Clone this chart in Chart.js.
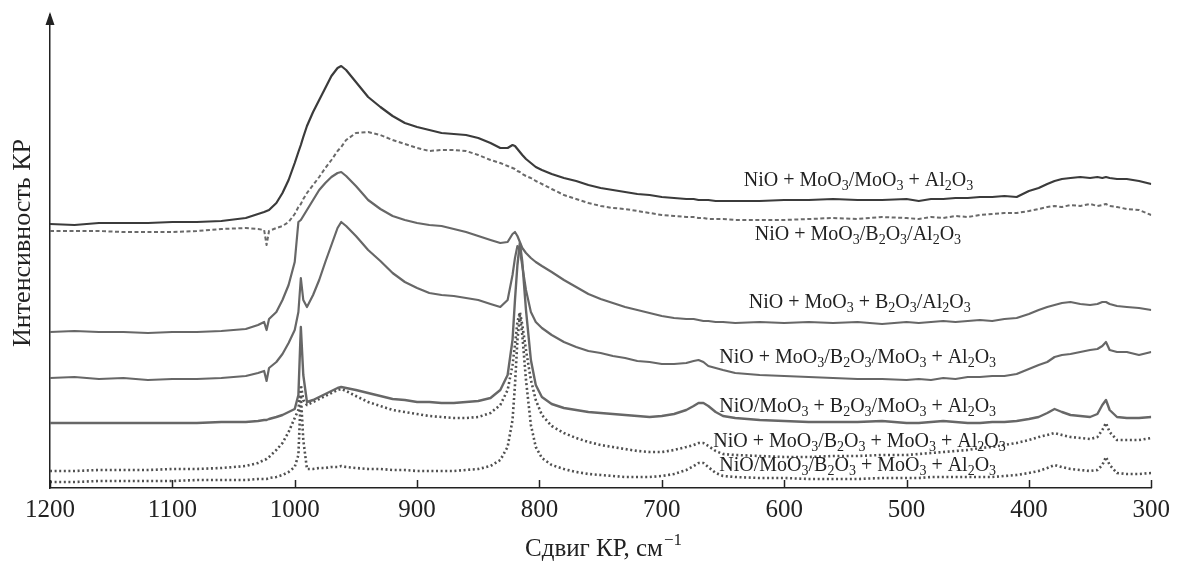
<!DOCTYPE html>
<html>
<head>
<meta charset="utf-8">
<title>Спектры КР</title>
<script src="https://cdn.jsdelivr.net/npm/chart.js@4.4.0/dist/chart.umd.min.js"></script>
<style>
  html, body { margin: 0; padding: 0; background: #fff; }
  #wrap { width: 1177px; height: 564px; }
</style>
</head>
<body>
<div id="wrap"><canvas id="chart-context" width="1177" height="564"></canvas></div>
<script>
"use strict";

// Raman shift, cm-1 (shared by all spectra)
const shift = [
  1200, 1180, 1160, 1140, 1120, 1100, 1080, 1060, 1040, 1030,
  1025, 1023, 1021, 1015, 1010, 1005, 1000, 997, 995, 993,
  990, 985, 980, 975, 970, 965, 962, 958, 950, 940,
  930, 920, 910, 900, 890, 880, 870, 860, 850, 840,
  832, 826, 822, 820, 818, 816, 814, 811, 807, 803,
  798, 790, 780, 770, 760, 750, 740, 730, 720, 710,
  700, 690, 680, 674, 670, 666, 662, 656, 650, 640,
  620, 600, 580, 560, 540, 520, 500, 490, 480, 470,
  460, 450, 440, 430, 420, 410, 400, 392, 385, 379,
  373, 366, 358, 350, 344, 340, 337, 334, 328, 320,
  310, 300,
];

// intensities (arb. units, curves already offset)
const spec1 = [
  264, 263, 265, 265, 265, 266, 266, 267, 270, 274,
  276, 277, 278, 285, 295, 308, 325, 336, 343, 351,
  362, 376, 388, 400, 412, 420, 422, 418, 406, 391,
  381, 372, 365, 361, 358, 355, 354, 353, 350, 345,
  340, 340, 343, 342, 339, 336, 333, 329, 325, 321,
  318, 314, 310, 307, 303, 300, 298, 296, 294, 293,
  291, 290, 289, 289, 288, 288, 288, 287, 287, 287,
  287, 288, 288, 289, 288, 288, 289, 287, 289, 289,
  290, 290, 291, 291, 292, 291, 297, 300, 304, 307,
  309, 310, 311, 310, 311, 310, 311, 310, 309, 309,
  307, 304,
];
const spec2 = [
  257, 257, 257, 256, 256, 256, 257, 259, 260, 259,
  258, 243, 257, 260, 262, 266, 274, 281, 284, 289,
  295, 303, 311, 320, 328, 337, 341, 348, 355, 356,
  353, 348, 344, 340, 337, 338, 338, 337, 333, 328,
  325, 322, 320, 319, 317, 316, 314, 312, 310, 307,
  304, 299, 293, 289, 285, 282, 280, 279, 277, 275,
  273, 272, 271, 271, 270, 270, 269, 269, 269, 268,
  268, 268, 269, 270, 269, 271, 270, 269, 271, 270,
  272, 271, 273, 274, 275, 275, 277, 279, 281, 282,
  281, 283, 282, 284, 282, 283, 284, 282, 281, 279,
  278, 273,
];
const spec3 = [
  156, 157, 156, 156, 155, 156, 156, 157, 159, 163,
  166, 158, 169, 176, 188, 203, 226, 266, 268, 272,
  278, 288, 298, 305, 311, 315, 316, 312, 302, 288,
  279, 272, 268, 265, 263, 262, 259, 256, 252, 248,
  245, 246, 254, 256, 252, 246, 240, 235, 230, 226,
  222, 216, 208, 201, 194, 189, 185, 181, 178, 175,
  172, 170, 169, 169, 168, 167, 167, 166, 166, 165,
  166, 165, 166, 165, 166, 164, 166, 165, 166, 167,
  166, 167, 168, 167, 169, 170, 174, 178, 181, 183,
  185, 186, 184, 183, 184, 186, 186, 184, 182, 181,
  180, 178,
];
const spec4 = [
  110, 111, 109, 110, 108, 109, 109, 110, 112, 115,
  117, 107, 120, 126, 134, 145, 158, 176, 210, 188,
  181, 193, 208, 226, 243, 260, 266, 262, 252, 238,
  227, 215, 206, 200, 195, 193, 192, 190, 188, 184,
  181, 188, 213, 230, 242, 238, 222, 198, 176, 166,
  160, 153, 146, 141, 137, 135, 132, 130, 127, 126,
  124, 124, 125, 127, 128, 126, 122, 120, 118, 115,
  113, 112, 111, 110, 109, 109, 108, 109, 108, 110,
  109, 111, 111, 112, 112, 114, 119, 123, 126, 131,
  133, 134, 136, 138, 139, 142, 146, 138, 136, 136,
  133, 136,
];
const spec5 = [
  65, 65, 65, 65, 65, 65, 65, 66, 66, 67,
  68, 68, 69, 71, 73, 76, 79, 93, 161, 113,
  86, 88, 91, 94, 97, 100, 101, 100, 98, 95,
  92, 89, 88, 86, 86, 85, 85, 86, 87, 90,
  98, 113, 148, 188, 223, 245, 226, 178, 128, 103,
  91, 84, 80, 78, 76, 75, 74, 73, 72, 71,
  72, 74, 78, 82, 85, 85, 82, 76, 72, 70,
  68, 67, 66, 66, 66, 67, 65, 65, 66, 67,
  66, 65, 65, 66, 66, 67, 69, 71, 75, 79,
  76, 73, 72, 71, 74, 83, 88, 78, 71, 70,
  70, 71,
];
const spec6 = [
  17, 17, 18, 18, 18, 19, 19, 20, 22, 25,
  28, 29, 31, 38, 45, 56, 70, 78, 103, 88,
  83, 86, 89, 92, 95, 98, 99, 97, 92, 86,
  82, 78, 76, 74, 72, 71, 70, 70, 71, 75,
  83, 98, 123, 143, 166, 176, 163, 138, 108, 88,
  73, 62, 55, 50, 46, 43, 41, 39, 37, 36,
  36, 38, 41, 43, 45, 45, 42, 37, 34, 33,
  32, 31, 31, 32, 32, 33, 33, 34, 35, 36,
  37, 38, 40, 41, 43, 45, 48, 51, 53, 55,
  53, 51, 50, 49, 51, 58, 65, 56, 48, 48,
  48, 50,
];
const spec7 = [
  6, 6, 7, 7, 7, 7, 8, 8, 8, 9,
  9, 9, 10, 11, 13, 16, 21, 33, 93, 48,
  19, 19, 20, 20, 21, 21, 22, 21, 20, 19,
  19, 18, 18, 17, 17, 17, 17, 18, 19, 22,
  28, 41, 68, 103, 148, 172, 153, 108, 63, 41,
  30, 23, 19, 16, 14, 13, 12, 11, 11, 11,
  12, 14, 18, 22, 25, 25, 21, 15, 12, 11,
  10, 10, 9, 9, 9, 10, 10, 10, 11, 11,
  11, 11, 11, 11, 12, 13, 15, 17, 20, 23,
  21, 19, 18, 17, 18, 23, 31, 23, 15, 14,
  14, 15,
];

// sample names, "_" marks a subscript digit
const sampleNames = [
  "NiO + MoO_3/MoO_3 + Al_2O_3",
  "NiO + MoO_3/B_2O_3/Al_2O_3",
  "NiO + MoO_3 + B_2O_3/Al_2O_3",
  "NiO + MoO_3/B_2O_3/MoO_3 + Al_2O_3",
  "NiO/MoO_3 + B_2O_3/MoO_3 + Al_2O_3",
  "NiO + MoO_3/B_2O_3 + MoO_3 + Al_2O_3",
  "NiO/MoO_3/B_2O_3 + MoO_3 + Al_2O_3",
];

const xTicks = [1200, 1100, 1000, 900, 800, 700, 600, 500, 400, 300];

// where each name sits (shift, intensity)
const labelSpots = [
  [633, 307], [624, 253], [629, 185], [653, 130], [653, 81], [658, 46], [653, 22],
];

const serif = '"Liberation Serif", "Times New Roman", serif';
const ink = "#222";

const allSpectra = [spec1, spec2, spec3, spec4, spec5, spec6, spec7];
const styles = [
  { color: "#3b3b3b", width: 2.2, dash: [] },
  { color: "#6a6a6a", width: 2.0, dash: [4, 2.5] },
  { color: "#676767", width: 2.2, dash: [] },
  { color: "#676767", width: 2.2, dash: [] },
  { color: "#676767", width: 2.4, dash: [] },
  { color: "#505050", width: 2.6, dash: [2, 2.6] },
  { color: "#505050", width: 2.6, dash: [2, 2.6] },
];

const datasets = allSpectra.map((arr, k) => ({
  label: sampleNames[k].replace(/_/g, ""),
  data: shift.map((x, i) => ({ x: x, y: arr[i] })),
  borderColor: styles[k].color,
  borderWidth: styles[k].width,
  borderDash: styles[k].dash,
  borderJoinStyle: "round",
  pointRadius: 0,
  tension: 0,
  fill: false,
}));

// draw text with subscripts
function drawChem(ctx, text, x, y, size) {
  const parts = text.split(/(_\d)/);
  let cx = x;
  parts.forEach((p) => {
    if (!p) return;
    if (p[0] === "_") {
      ctx.font = Math.round(size * 0.68) + "px " + serif;
      ctx.fillText(p[1], cx, y + size * 0.26);
      cx += ctx.measureText(p[1]).width;
    } else {
      ctx.font = size + "px " + serif;
      ctx.fillText(p, cx, y);
      cx += ctx.measureText(p).width;
    }
  });
}

const decorPlugin = {
  id: "decor",
  afterDraw(chart) {
    const ctx = chart.ctx;
    const xs = chart.scales.x;
    const ys = chart.scales.y;
    const area = chart.chartArea;
    ctx.save();
    ctx.fillStyle = ink;
    ctx.strokeStyle = ink;

    // inward tick marks
    ctx.lineWidth = 1.5;
    xTicks.forEach((t) => {
      const px = Math.round(xs.getPixelForValue(t)) + 0.5;
      ctx.beginPath();
      ctx.moveTo(px, area.bottom);
      ctx.lineTo(px, area.bottom - 8);
      ctx.stroke();
    });

    // arrow on intensity axis
    const ax = area.left;
    ctx.beginPath();
    ctx.moveTo(ax, area.top - 3);
    ctx.lineTo(ax - 4.5, area.top + 10);
    ctx.lineTo(ax + 4.5, area.top + 10);
    ctx.closePath();
    ctx.fill();

    // sample names
    ctx.textBaseline = "middle";
    ctx.textAlign = "left";
    sampleNames.forEach((name, k) => {
      const px = xs.getPixelForValue(labelSpots[k][0]);
      const py = ys.getPixelForValue(labelSpots[k][1]);
      drawChem(ctx, name, px, py, 20);
    });

    // x title with superscript
    ctx.textBaseline = "alphabetic";
    ctx.font = "25px " + serif;
    const main = "Сдвиг КР, см";
    const wMain = ctx.measureText(main).width;
    ctx.font = "17px " + serif;
    const wSup = ctx.measureText("\u22121").width;
    const tx = 603 - (wMain + wSup) / 2;
    ctx.font = "25px " + serif;
    ctx.fillText(main, tx, 556);
    ctx.font = "17px " + serif;
    ctx.fillText("\u22121", tx + wMain + 1, 545);

    // y title
    ctx.translate(23, 243);
    ctx.rotate(-Math.PI / 2);
    ctx.textAlign = "center";
    ctx.textBaseline = "middle";
    ctx.font = "26px " + serif;
    ctx.fillText("Интенсивность КР", 0, 0);
    ctx.restore();
  },
};

const chartCxt = document.querySelector("#chart-context").getContext("2d");
new Chart(chartCxt, {
  type: "line",
  data: { datasets: datasets },
  options: {
    responsive: false,
    animation: false,
    devicePixelRatio: 1,
    layout: { padding: { top: 15, right: 20, left: 0, bottom: 0 } },
    plugins: {
      legend: { display: false },
      tooltip: { enabled: false },
    },
    scales: {
      x: {
        type: "linear",
        reverse: true,
        min: 300,
        max: 1200,
        afterFit: (scale) => { scale.height = 76; },
        afterBuildTicks: (scale) => {
          scale.ticks = xTicks.map((v) => ({ value: v }));
        },
        grid: { display: false, drawTicks: false },
        border: { display: true, color: ink, width: 1.5 },
        ticks: {
          color: ink,
          padding: 7,
          maxRotation: 0,
          font: { family: serif, size: 25 },
          callback: (v) => String(v),
        },
      },
      y: {
        min: 0,
        max: 473,
        afterFit: (scale) => { scale.width = 50; },
        grid: { display: false, drawTicks: false },
        border: { display: true, color: ink, width: 1.5 },
        ticks: { display: false },
      },
    },
  },
  plugins: [decorPlugin],
});
</script>
</body>
</html>
